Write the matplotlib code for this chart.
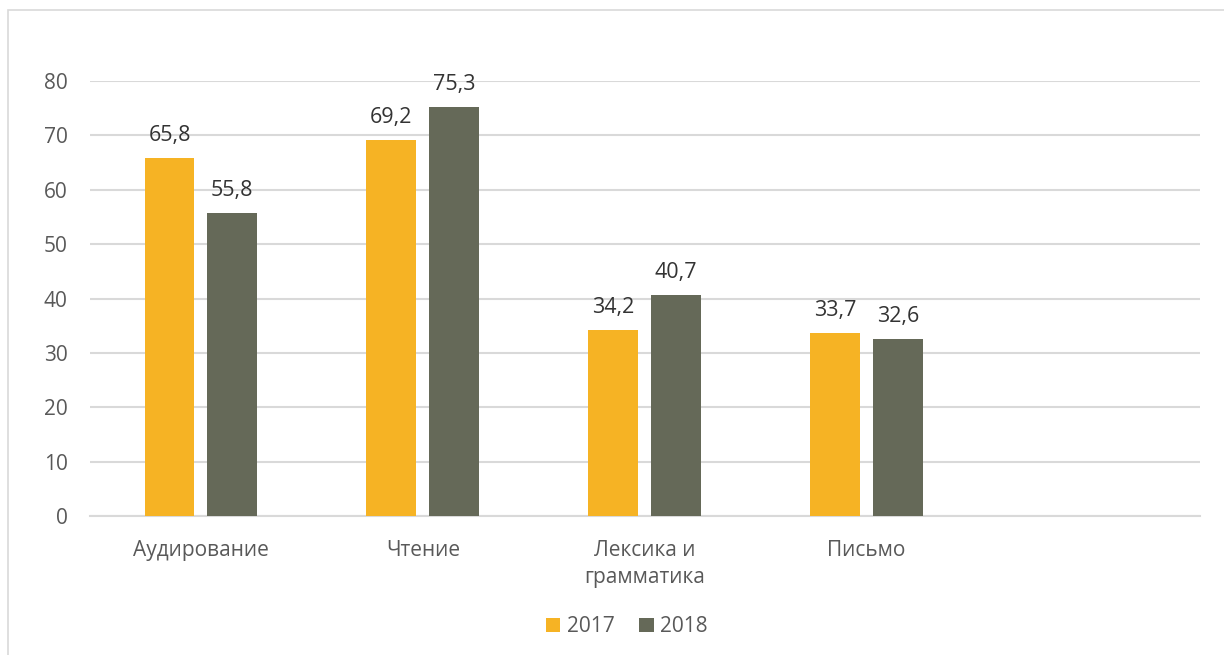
import matplotlib.pyplot as plt
import numpy as np

categories = ['Аудирование', 'Чтение', 'Лексика и\nграмматика', 'Письмо']
years = ['2017', '2018']
values_2017 = [65.8, 69.2, 34.2, 33.7]
values_2018 = [55.8, 75.3, 40.7, 32.6]
colors = ['#F6B324', '#656958']

plt.rcParams['font.family'] = ['Open Sans', 'DejaVu Sans']

fig = plt.figure(figsize=(12.24, 6.55), dpi=100)
ax = fig.add_axes([0.0735, 0.2122, 0.9065, 0.6641])

x = np.arange(len(categories))
w = 0.225
gap = 0.058
for i, (vals, lab) in enumerate(zip([values_2017, values_2018], years)):
    off = (i - 0.5) * (w + gap)
    bars = ax.bar(x + off, vals, w, color=colors[i], label=lab, zorder=3)
    for b, v in zip(bars, vals):
        ax.text(b.get_x() + b.get_width() / 2, v + 4.1, f'{v:.1f}'.replace('.', ','),
                ha='center', va='center', fontsize=15.5, color='#333333')

ax.set_xlim(-0.5, 4.5)
ax.set_ylim(0, 80)
ax.set_yticks(range(0, 81, 10))
ax.yaxis.grid(True, color='#d9d9d9', linewidth=1.5, zorder=0)
for s in ['top', 'right', 'left']:
    ax.spines[s].set_visible(False)
ax.spines['bottom'].set_color('#d9d9d9')
ax.spines['bottom'].set_linewidth(1.5)
ax.tick_params(axis='both', length=0, labelsize=15, colors='#595959')
ax.tick_params(axis='y', pad=16)
ax.tick_params(axis='x', pad=17)
ax.set_xticks(x)
ax.set_xticklabels(categories, linespacing=1.4)

leg = fig.legend(loc='center', bbox_to_anchor=(0.512, 0.043), ncol=2, frameon=False,
                 fontsize=15, handlelength=0.7, handleheight=0.7, handletextpad=0.3,
                 columnspacing=1.2)
for t in leg.get_texts():
    t.set_color('#595959')

# outer chart border
fig.add_artist(plt.Rectangle((8 / 1224, -0.05), 1.1, 1 - 10 / 655 + 0.05, transform=fig.transFigure,
                             fill=False, edgecolor='#d9d9d9', linewidth=1.2))

fig.savefig('out.png', dpi=100)
